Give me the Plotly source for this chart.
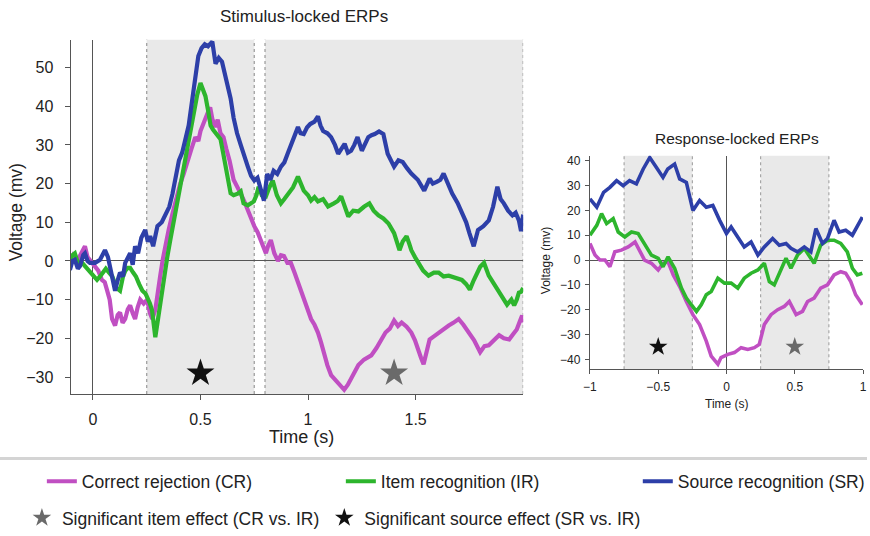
import plotly.graph_objects as go

# ---------------- data ----------------
# Stimulus-locked ERPs (time in s, voltage in mv)
stim_t_cr = [-0.107, -0.09, -0.07, -0.05, -0.037, -0.025, -0.014, 0.01, 0.025, 0.042, 0.055, 0.065, 0.078,
             0.089, 0.103, 0.115, 0.126, 0.138, 0.15, 0.162, 0.173, 0.185, 0.196, 0.208, 0.22, 0.236, 0.252,
             0.265, 0.276, 0.29, 0.3, 0.313, 0.325, 0.336, 0.352, 0.37, 0.388, 0.406, 0.422, 0.44, 0.458,
             0.476, 0.49, 0.5, 0.512, 0.523, 0.535, 0.545, 0.556, 0.568, 0.58, 0.593, 0.607, 0.62, 0.635,
             0.654, 0.67, 0.687, 0.703, 0.72, 0.735, 0.75, 0.765, 0.78, 0.792, 0.804, 0.815, 0.827, 0.843,
             0.86, 0.874, 0.888, 0.904, 0.92, 0.937, 0.953, 0.967, 0.98, 0.997, 1.014, 1.03, 1.046, 1.06,
             1.075, 1.09, 1.107, 1.123, 1.14, 1.155, 1.168, 1.185, 1.2, 1.217, 1.234, 1.26, 1.28, 1.294,
             1.318, 1.34, 1.36, 1.38, 1.40, 1.418, 1.435, 1.458, 1.48, 1.497, 1.514, 1.525, 1.537, 1.55,
             1.565, 1.585, 1.607, 1.63, 1.654, 1.675, 1.70, 1.722, 1.747, 1.772, 1.8, 1.82, 1.84, 1.865,
             1.888, 1.91, 1.935, 1.952, 1.97, 1.985, 1.995, 2.0]
stim_cr = [-1.3, 1.5, 0.3, 2.5, 3.8, 1.0, 0.3, -1.3, -2.5, -4.9, -5.5, -7.4, -10.0,
           -15.0, -16.7, -14.0, -13.3, -16.0, -15.0, -12.5, -11.5, -13.5, -15.0, -12.0, -10.0, -11.0, -10.0,
           -13.5, -15.0, -12.6, -8.0, -3.8, 0.5, 3.8, 8.0, 12.3, 16.5, 20.0, 22.5, 26.0, 29.0,
           32.0, 31.0, 33.6, 35.5, 37.0, 38.5, 39.7, 36.5, 34.6, 36.5, 33.0, 32.0, 29.0, 26.0,
           21.0, 19.5, 17.4, 15.5, 13.0, 11.0, 9.0, 7.5, 5.4, 3.5, 2.0, 4.0, 5.4, 2.0,
           0.0, 1.5, 1.3, -0.5, -0.5, -3.0, -5.6, -7.5, -10.0, -12.5, -15.0, -16.5, -18.5, -21.0,
           -24.4, -27.0, -29.5, -30.5, -31.3, -32.5, -33.3, -32.0, -30.5, -29.0, -26.9, -25.5, -25.0, -24.4,
           -22.5, -20.3, -18.5, -17.5, -15.4, -16.8, -15.9, -17.0, -18.5, -20.5, -23.6, -25.0, -26.7, -23.5,
           -20.3, -19.5, -18.5, -17.5, -16.7, -16.0, -15.0, -16.5, -18.5, -20.5, -23.6, -22.0, -21.8, -20.5,
           -19.2, -20.0, -20.3, -19.0, -17.7, -15.5, -14.1, -15.9]

stim_t_ir = [-0.107, -0.095, -0.084, -0.07, -0.05, -0.035, -0.023, 0.0, 0.019, 0.033, 0.047, 0.06, 0.075,
             0.09, 0.11, 0.126, 0.14, 0.15, 0.162, 0.173, 0.187, 0.2, 0.215, 0.23, 0.245, 0.255, 0.265,
             0.275, 0.283, 0.29, 0.3, 0.31, 0.327, 0.345, 0.36, 0.375, 0.39, 0.406, 0.42, 0.435, 0.45,
             0.467, 0.485, 0.5, 0.512, 0.523, 0.535, 0.547, 0.558, 0.57, 0.582, 0.593, 0.605, 0.615, 0.628,
             0.64, 0.654, 0.673, 0.687, 0.70, 0.72, 0.733, 0.748, 0.76, 0.77, 0.785, 0.804, 0.82, 0.836,
             0.855, 0.874, 0.89, 0.91, 0.93, 0.953, 0.967, 0.98, 1.0, 1.014, 1.03, 1.046, 1.07, 1.093,
             1.12, 1.138, 1.154, 1.17, 1.187, 1.21, 1.234, 1.26, 1.285, 1.305, 1.327, 1.35, 1.374, 1.40,
             1.412, 1.425, 1.44, 1.458, 1.47, 1.48, 1.497, 1.514, 1.535, 1.56, 1.585, 1.607, 1.63, 1.654,
             1.685, 1.715, 1.735, 1.752, 1.77, 1.785, 1.8, 1.818, 1.84, 1.865, 1.888, 1.91, 1.925, 1.945,
             1.958, 1.97, 1.98, 1.99, 2.0]
stim_ir = [0.3, 1.5, 2.0, -0.5, -0.5, -1.5, -2.3, -3.5, -4.9, -4.0, -3.0, -2.0, -3.0,
           -4.0, -7.0, -7.7, -4.0, -2.6, -1.8, -1.8, -3.0, -4.0, -6.0, -7.7, -8.5, -9.5, -11.0,
           -12.8, -17.0, -19.7, -16.0, -12.0, -6.0, 0.8, 5.5, 10.0, 14.0, 18.7, 23.0, 28.0, 33.0,
           37.4, 43.0, 46.0, 44.0, 42.6, 39.0, 35.0, 34.0, 33.0, 32.0, 31.5, 28.0, 25.0, 21.0,
           17.5, 17.0, 17.4, 18.0, 14.9, 14.4, 14.9, 15.4, 17.0, 19.2, 17.0, 16.7, 19.0, 20.8,
           17.0, 14.9, 16.0, 17.4, 19.0, 21.8, 19.5, 18.2, 17.0, 15.6, 16.5, 15.4, 16.0, 14.1,
           14.9, 15.5, 16.7, 14.0, 11.5, 13.0, 12.8, 14.0, 14.9, 13.0, 11.8, 11.0, 9.7, 7.2,
           5.0, 2.8, 5.0, 6.4, 4.5, 2.8, 1.0, -0.5, -2.5, -3.8, -3.0, -3.0, -4.0, -3.8,
           -4.5, -4.9, -6.0, -7.4, -5.0, -3.0, -1.5, -0.5, -3.8, -6.0, -8.2, -10.0, -11.3, -10.0,
           -11.5, -10.0, -8.2, -8.0, -7.0]

stim_t_sr = [-0.107, -0.095, -0.084, -0.07, -0.06, -0.045, -0.037, -0.025, -0.014, 0.01, 0.033, 0.056, 0.07,
             0.08, 0.09, 0.103, 0.115, 0.126, 0.14, 0.15, 0.173, 0.185, 0.196, 0.21, 0.225, 0.243, 0.255,
             0.266, 0.28, 0.30, 0.32, 0.336, 0.355, 0.37, 0.385, 0.40, 0.415, 0.43, 0.445, 0.46, 0.475,
             0.49, 0.505, 0.52, 0.535, 0.555, 0.57, 0.585, 0.60, 0.61, 0.626, 0.64, 0.654, 0.67, 0.687,
             0.703, 0.72, 0.735, 0.75, 0.765, 0.78, 0.795, 0.81, 0.825, 0.84, 0.857, 0.874, 0.89, 0.905,
             0.93, 0.953, 0.965, 0.98, 0.995, 1.01, 1.03, 1.046, 1.058, 1.07, 1.09, 1.107, 1.125, 1.14,
             1.155, 1.17, 1.185, 1.2, 1.215, 1.23, 1.25, 1.265, 1.28, 1.295, 1.31, 1.33, 1.35, 1.37,
             1.385, 1.40, 1.42, 1.44, 1.46, 1.48, 1.51, 1.54, 1.565, 1.58, 1.60, 1.615, 1.63, 1.65,
             1.67, 1.695, 1.715, 1.735, 1.75, 1.77, 1.79, 1.815, 1.84, 1.86, 1.88, 1.895, 1.91, 1.93,
             1.95, 1.965, 1.98, 1.99, 2.0]
stim_sr = [-2.3, 0.0, 0.3, -2.0, -1.3, 1.5, 2.0, 0.0, -0.5, -0.5, 0.3, 2.8, 1.0,
           -1.3, -4.0, -7.7, -5.0, -3.0, -4.0, -0.5, 2.0, -1.0, 3.8, 2.0, 6.0, 8.0, 5.0,
           6.4, 3.8, 9.0, 10.0, 11.8, 14.0, 17.4, 22.0, 26.0, 28.0, 32.0, 35.0, 41.0, 47.0,
           53.0, 55.0, 56.0, 55.5, 56.7, 51.0, 52.5, 51.5, 49.0, 45.6, 42.0, 37.0, 33.0, 30.0,
           27.0, 24.4, 22.0, 20.8, 21.5, 18.7, 15.6, 22.5, 21.0, 23.3, 22.5, 24.4, 25.5, 27.7,
           31.0, 34.6, 33.0, 32.8, 34.5, 35.4, 36.0, 37.4, 35.0, 33.6, 33.0, 32.0, 30.0, 27.7,
           29.0, 30.3, 28.0, 28.5, 30.0, 32.0, 28.5, 30.0, 32.0, 32.5, 32.8, 33.5, 32.8, 27.7,
           26.0, 24.4, 26.0, 25.6, 24.0, 22.6, 21.0, 18.2, 21.3, 20.0, 20.5, 21.0, 22.6, 20.0,
           17.4, 15.0, 12.3, 10.0, 7.2, 3.8, 8.0, 9.0, 10.5, 14.0, 19.2, 16.0, 14.9, 13.0,
           11.8, 12.5, 10.5, 7.7, 12.0]

# Response-locked ERPs
resp_t_cr = [-1.0, -0.963, -0.927, -0.89, -0.854, -0.818, -0.77, -0.72, -0.67, -0.635, -0.6, -0.55, -0.5,
             -0.465, -0.428, -0.39, -0.343, -0.294, -0.246, -0.197, -0.148, -0.112, -0.063, -0.04, 0.01,
             0.058, 0.107, 0.156, 0.204, 0.24, 0.277, 0.326, 0.375, 0.423, 0.46, 0.51, 0.557, 0.594,
             0.642, 0.69, 0.74, 0.788, 0.837, 0.873, 0.91, 0.946, 0.995]
resp_cr = [6.7, 2.0, 0.0, 0.0, -2.7, 3.3, 4.0, 5.3, 7.3, 3.3, 0.0, -1.3, -4.0,
           -1.3, -0.7, -6.0, -10.7, -16.7, -22.0, -26.0, -32.7, -38.7, -42.0, -39.3, -38.0,
           -37.3, -35.3, -36.0, -35.3, -34.0, -26.0, -22.0, -20.0, -18.7, -16.7, -22.0, -20.7, -16.7,
           -15.3, -11.3, -10.0, -6.0, -4.7, -5.3, -8.7, -14.0, -18.0]

resp_t_ir = [-1.0, -0.95, -0.915, -0.878, -0.83, -0.793, -0.745, -0.696, -0.647, -0.6, -0.55, -0.5, -0.465,
             -0.428, -0.38, -0.33, -0.294, -0.258, -0.22, -0.185, -0.148, -0.112, -0.063, -0.015, 0.034,
             0.083, 0.13, 0.18, 0.23, 0.277, 0.314, 0.35, 0.4, 0.436, 0.472, 0.52, 0.57, 0.606, 0.642,
             0.69, 0.74, 0.788, 0.837, 0.885, 0.922, 0.958, 0.995]
resp_ir = [10.0, 14.0, 18.7, 14.7, 16.7, 11.3, 9.3, 11.3, 10.7, 6.7, 2.0, 0.7, -2.7,
           1.3, -3.3, -11.3, -15.3, -18.0, -20.7, -18.0, -14.0, -12.7, -7.3, -9.3, -9.3,
           -11.3, -7.3, -5.3, -4.0, -1.3, -8.7, -10.0, -3.3, 0.7, -3.3, 2.0, 4.7, 2.0, -1.3,
           6.0, 8.0, 8.0, 6.7, 3.3, -3.3, -6.0, -5.3]

resp_t_sr = [-1.0, -0.95, -0.9, -0.854, -0.805, -0.757, -0.71, -0.66, -0.61, -0.562, -0.513, -0.465, -0.43,
             -0.38, -0.343, -0.294, -0.246, -0.197, -0.148, -0.1, -0.05, 0.0, 0.034, 0.083, 0.13, 0.18,
             0.23, 0.277, 0.338, 0.387, 0.436, 0.472, 0.52, 0.57, 0.618, 0.655, 0.703, 0.74, 0.788, 0.825,
             0.873, 0.922, 0.958, 0.995]
resp_sr = [24.7, 21.3, 27.3, 29.3, 32.0, 30.0, 32.0, 30.7, 36.7, 41.3, 37.3, 33.3, 36.7,
           38.7, 32.7, 31.3, 20.0, 24.0, 21.3, 22.0, 16.0, 10.7, 13.3, 9.3, 5.3, 7.3,
           2.0, 5.3, 8.7, 6.0, 6.7, 4.7, 3.3, 5.3, 3.3, 12.7, 6.7, 8.7, 16.0, 11.3,
           12.0, 10.0, 13.3, 17.3]

# analysis windows (shaded) and significance stars
stim_windows = [(0.25, 0.75), (0.8, 2.0)]
resp_windows = [(-0.75, -0.25), (0.25, 0.75)]
stim_item_star = ([1.4], [-29])
stim_source_star = ([0.5], [-29])
resp_item_star = ([0.5], [-35])
resp_source_star = ([-0.5], [-35])

stim_xticks = [0, 0.5, 1, 1.5]
stim_yticks = [-30, -20, -10, 0, 10, 20, 30, 40, 50]
resp_xticks = [-1, -0.5, 0, 0.5, 1]
resp_yticks = [-40, -30, -20, -10, 0, 10, 20, 30, 40]

names = ["Correct rejection (CR)", "Item recognition (IR)", "Source recognition (SR)"]
colors = ["#c04fc2", "#2db52d", "#2d3fa8"]
legend_ids = ["legend", "legend", "legend3"]

# ---------------- figure ----------------
FONT = "Liberation Sans, Arial, sans-serif"
W, H = 870, 536

fig = go.Figure()

stim_series = [(stim_t_cr, stim_cr), (stim_t_ir, stim_ir), (stim_t_sr, stim_sr)]
resp_series = [(resp_t_cr, resp_cr), (resp_t_ir, resp_ir), (resp_t_sr, resp_sr)]

for (tx, vy), nm, c, lg in zip(stim_series, names, colors, legend_ids):
    fig.add_trace(go.Scatter(x=tx, y=vy, mode="lines", name=nm, legend=lg,
                             line=dict(color=c, width=4.2), xaxis="x", yaxis="y"))
for (tx, vy), nm, c in zip(resp_series, names, colors):
    fig.add_trace(go.Scatter(x=tx, y=vy, mode="lines", name=nm, showlegend=False,
                             line=dict(color=c, width=3.6), xaxis="x2", yaxis="y2"))

# stars
fig.add_trace(go.Scatter(x=stim_item_star[0], y=stim_item_star[1], mode="markers", showlegend=False,
                         marker=dict(symbol="star", size=21, color="#6a6a6a"), xaxis="x", yaxis="y"))
fig.add_trace(go.Scatter(x=stim_source_star[0], y=stim_source_star[1], mode="markers", showlegend=False,
                         marker=dict(symbol="star", size=21, color="#111111"), xaxis="x", yaxis="y"))
fig.add_trace(go.Scatter(x=resp_item_star[0], y=resp_item_star[1], mode="markers",
                         name="Significant item effect (CR vs. IR)", legend="legend2",
                         marker=dict(symbol="star", size=14, color="#6a6a6a"), xaxis="x2", yaxis="y2"))
fig.add_trace(go.Scatter(x=resp_source_star[0], y=resp_source_star[1], mode="markers",
                         name="Significant source effect (SR vs. IR)", legend="legend2",
                         marker=dict(symbol="star", size=14, color="#111111"), xaxis="x2", yaxis="y2"))

shapes = []
for (a, b) in stim_windows:
    shapes.append(dict(type="rect", xref="x", yref="y domain", x0=a, x1=b, y0=0, y1=1,
                       fillcolor="#e9e9e9", line=dict(width=0), layer="below"))
    for xv in (a, b):
        shapes.append(dict(type="line", xref="x", yref="y domain", x0=xv, x1=xv, y0=0, y1=1,
                           line=dict(color="#a0a0a0", width=1.3, dash="dot"), layer="below"))
for (a, b) in resp_windows:
    shapes.append(dict(type="rect", xref="x2", yref="y2 domain", x0=a, x1=b, y0=0, y1=1,
                       fillcolor="#e9e9e9", line=dict(width=0), layer="below"))
    for xv in (a, b):
        shapes.append(dict(type="line", xref="x2", yref="y2 domain", x0=xv, x1=xv, y0=0, y1=1,
                           line=dict(color="#a0a0a0", width=1.1, dash="dot"), layer="below"))
# separator above legend
shapes.append(dict(type="line", xref="paper", yref="paper", x0=0, x1=1,
                   y0=1 - 462 / H, y1=1 - 462 / H, line=dict(color="#d4d4d4", width=3)))

axis_common = dict(showgrid=False, showline=True, linecolor="#555555", linewidth=1.4,
                   ticks="outside", tickcolor="#555555", zeroline=True, zerolinecolor="#555555",
                   zerolinewidth=1.4, mirror=False, automargin=False)


def label(text, x, y, size, angle=0):
    return dict(text=text, x=x / W, y=1 - y / H, xref="paper", yref="paper",
                xanchor="center", yanchor="middle", textangle=angle, showarrow=False,
                font=dict(size=size, color="#222", family=FONT))


annotations = [
    label("Stimulus-locked ERPs", 305, 17, 17),
    label("Response-locked ERPs", 740, 140, 15.5),
    label("Time (s)", 303, 440, 18),
    label("Time (s)", 730, 407, 12),
    label("Voltage (mv)", 16, 214, 17.5, -90),
    label("Voltage (mv)", 548, 263, 12, -90),
]

legend_font = dict(size=17.5, family=FONT, color="#222")

fig.update_layout(
    width=W, height=H, margin=dict(l=0, r=0, t=0, b=0),
    paper_bgcolor="white", plot_bgcolor="white",
    font=dict(family=FONT, color="#222"),
    xaxis=dict(domain=[71 / W, 525 / W], range=[-0.103, 2.0], tickvals=stim_xticks,
               ticklen=5, ticklabelstandoff=6, tickfont=dict(size=16), anchor="y", **axis_common),
    yaxis=dict(domain=[1 - 397 / H, 1 - 40 / H], range=[-34.4, 57.2], tickvals=stim_yticks,
               ticklen=5, ticklabelstandoff=8, tickfont=dict(size=16), anchor="x", **axis_common),
    xaxis2=dict(domain=[592 / W, 866 / W], range=[-1.0, 1.0], tickvals=resp_xticks,
                ticklen=4, ticklabelstandoff=2, tickfont=dict(size=12), anchor="y2", **axis_common),
    yaxis2=dict(domain=[1 - 372 / H, 1 - 157 / H], range=[-44.0, 42.0], tickvals=resp_yticks,
                ticklen=4, ticklabelstandoff=2, tickfont=dict(size=12), anchor="x2", **axis_common),
    shapes=shapes,
    annotations=annotations,
    legend=dict(orientation="h", x=42 / W, xanchor="left", y=1 - 485 / H, yanchor="middle",
                font=legend_font, entrywidth=254, entrywidthmode="pixels",
                bgcolor="rgba(0,0,0,0)", itemclick=False),
    legend3=dict(orientation="h", x=640 / W, xanchor="left", y=1 - 485 / H, yanchor="middle",
                 font=legend_font, bgcolor="rgba(0,0,0,0)", itemclick=False),
    legend2=dict(orientation="h", x=22 / W, xanchor="left", y=1 - 522 / H, yanchor="middle",
                 font=legend_font, bgcolor="rgba(0,0,0,0)", itemclick=False),
    showlegend=True,
)

fig.write_html("out.html")
